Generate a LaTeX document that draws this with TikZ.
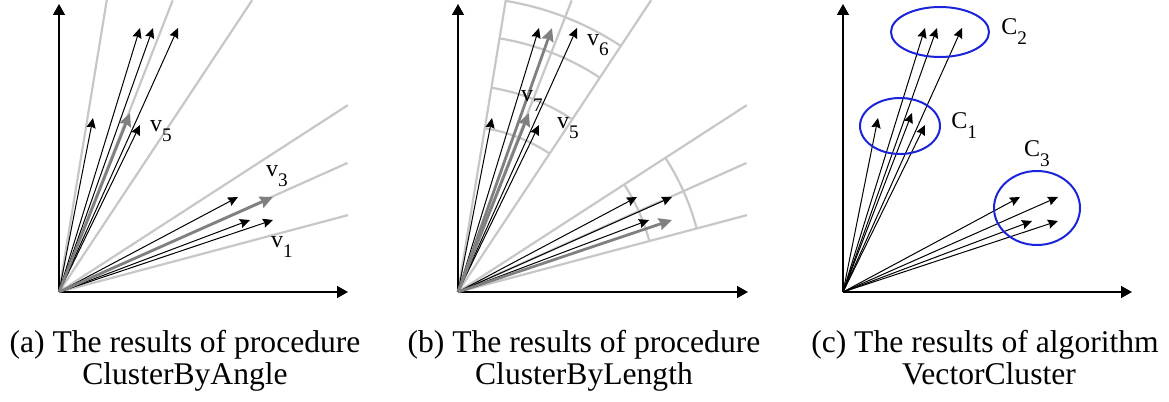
\documentclass[tikz,border=0pt]{standalone}
\usepackage{fontspec}
\setmainfont{Liberation Serif}
\usepackage{tikz}
\usetikzlibrary{positioning,arrows.meta,shapes.geometric}
\definecolor{clusterblue}{RGB}{28,36,218}
\newcommand{\vlab}[2]{#1\raisebox{-0.42em}{\fontsize{9.6}{9.6}\selectfont #2}}
\tikzset{
  axis/.style={-{Triangle[length=5.5pt,width=6pt]},line width=0.7pt},
  sector/.style={line width=1.1pt,black!22},
  vec/.style={-{Stealth[length=5pt,width=4.6pt,inset=0.6pt]},line width=0.5pt},
  gvec/.style={-{Stealth[length=6.5pt,width=6pt,inset=0.8pt]},line width=1.4pt,black!50},
  lab/.style={inner sep=0pt,font=\fontsize{12}{12}\selectfont},
  captext/.style={inner sep=0pt,anchor=base,font=\fontsize{15.8}{15.8}\selectfont},
  cluster/.style={ellipse,draw=clusterblue,line width=1pt,inner sep=0pt},
}

\begin{document}
\begin{tikzpicture}[x=0.5pt,y=0.5pt]
  \useasboundingbox (0,0) rectangle (1169,402);
  % panel origins
  \coordinate (oa) at (59,110);
  \coordinate (ob) at (458,110);
  \coordinate (oc) at (843,110);

  % (a) ClusterByAngle
  \path (oa) +(0,288) coordinate (ya) +(289,0) coordinate (xa)
        +(80.7:296) coordinate (sa1) +(68.7:313) coordinate (sa2)
        +(56.5:350) coordinate (sa3) +(32.9:344) coordinate (sa4)
        +(24.1:316) coordinate (sa5) +(14.9:299) coordinate (sa6);
  \path (oa) +(34,174) coordinate (au1) +(81,264) coordinate (au2)
        +(94,264) coordinate (au3) +(119,264) coordinate (au4)
        +(71,179) coordinate (au5) +(81,167) coordinate (au6)
        +(179,95) coordinate (al1) +(214,95) coordinate (al2)
        +(191,72) coordinate (al3) +(214,72) coordinate (al4);
  \draw[sector] (oa) -- (sa1) (oa) -- (sa2) (oa) -- (sa3)
                (oa) -- (sa4) (oa) -- (sa5) (oa) -- (sa6);
  \draw[axis] (oa) -- (ya);
  \draw[axis] (oa) -- (xa);
  \draw[vec] (oa) -- (au1);
  \draw[vec] (oa) -- (au2);
  \draw[vec] (oa) -- (au3);
  \draw[vec] (oa) -- (au4);
  \draw[vec] (oa) -- (au6);
  \draw[gvec] (oa) -- (au5);
  \draw[vec] (oa) -- (al1);
  \draw[vec] (oa) -- (al3);
  \draw[vec] (oa) -- (al4);
  \draw[gvec] (oa) -- (al2);
  \node[lab] (va5) at (161,271) {\vlab{v}{5}};
  \node[lab] (va3) at (277,226) {\vlab{v}{3}};
  \node[lab] (va1) at (282,155) {\vlab{v}{1}};

  % (b) ClusterByLength
  \path (ob) +(0,288) coordinate (yb) +(290,0) coordinate (xb)
        +(80.7:296) coordinate (sb1) +(68.7:313) coordinate (sb2)
        +(56.5:350) coordinate (sb3) +(32.9:344) coordinate (sb4)
        +(24.1:316) coordinate (sb5) +(14.9:299) coordinate (sb6);
  \path (ob) +(34,174) coordinate (bu1) +(81,264) coordinate (bu2)
        +(94,264) coordinate (bu3) +(119,264) coordinate (bu4)
        +(71,179) coordinate (bu5) +(81,167) coordinate (bu6)
        +(179,95) coordinate (bl1) +(214,95) coordinate (bl2)
        +(191,72) coordinate (bl3) +(214,72) coordinate (bl4);
  \draw[sector] (ob) -- (sb1) (ob) -- (sb2) (ob) -- (sb3)
                (ob) -- (sb4) (ob) -- (sb5) (ob) -- (sb6);
  \draw[sector] (ob) ++(80.7:166) arc[start angle=80.7,end angle=56.5,radius=166];
  \draw[sector] (ob) ++(80.7:207) arc[start angle=80.7,end angle=56.5,radius=207];
  \draw[sector] (ob) ++(80.7:257) arc[start angle=80.7,end angle=56.5,radius=257];
  \draw[sector] (ob) ++(80.7:295) arc[start angle=80.7,end angle=56.5,radius=295];
  \draw[sector] (ob) ++(32.9:198) arc[start angle=32.9,end angle=14.9,radius=198];
  \draw[sector] (ob) ++(32.9:247) arc[start angle=32.9,end angle=14.9,radius=247];
  \draw[axis] (ob) -- (yb);
  \draw[axis] (ob) -- (xb);
  \draw[vec] (ob) -- (bu1);
  \draw[vec] (ob) -- (bu2);
  \draw[vec] (ob) -- (bu4);
  \draw[vec] (ob) -- (bu6);
  \draw[gvec] (ob) -- (bu3);
  \draw[gvec] (ob) -- (bu5);
  \draw[vec] (ob) -- (bl1);
  \draw[vec] (ob) -- (bl2);
  \draw[vec] (ob) -- (bl3);
  \draw[gvec] (ob) -- (bl4);
  \node[lab] (vb6) at (598,357) {\vlab{v}{6}};
  \node[lab] (vb7) at (532,301) {\vlab{v}{7}};
  \node[lab] (vb5) at (568,274) {\vlab{v}{5}};

  % (c) VectorCluster
  \path (oc) +(0,288) coordinate (yc) +(289,0) coordinate (xc);
  \path (oc) +(35,174) coordinate (cu1) +(82,264) coordinate (cu2)
        +(94,264) coordinate (cu3) +(119,264) coordinate (cu4)
        +(69,179) coordinate (cu5) +(82,167) coordinate (cu6)
        +(177,95) coordinate (cl1) +(215,95) coordinate (cl2)
        +(189,71) coordinate (cl3) +(215,71) coordinate (cl4);
  \draw[axis] (oc) -- (yc);
  \draw[axis] (oc) -- (xc);
  \draw[vec] (oc) -- (cu1);
  \draw[vec] (oc) -- (cu2);
  \draw[vec] (oc) -- (cu3);
  \draw[vec] (oc) -- (cu4);
  \draw[vec] (oc) -- (cu5);
  \draw[vec] (oc) -- (cu6);
  \draw[vec] (oc) -- (cl1);
  \draw[vec] (oc) -- (cl2);
  \draw[vec] (oc) -- (cl3);
  \draw[vec] (oc) -- (cl4);
  \node[cluster,minimum width=49pt,minimum height=25pt] (c2) at (940,370) {};
  \node[cluster,minimum width=40pt,minimum height=28pt] (c1) at (900,276) {};
  \node[cluster,minimum width=43pt,minimum height=37pt] (c3) at (1037,194) {};
  \node[lab,right=5.5pt of c2] (lc2) {\vlab{C}{2}};
  \node[lab,right=5pt of c1]   (lc1) {\vlab{C}{1}};
  \node[lab,above=1.5pt of c3] (lc3) {\vlab{C}{3}};

  % captions
  \node[captext] (capa)  at (185,49.3) {(a) The results of procedure};
  \node[captext] (capa2) at (185,18)   {ClusterByAngle};
  \node[captext] (capb)  at (584,49.3) {(b) The results of procedure};
  \node[captext] (capb2) at (584,18)   {ClusterByLength};
  \node[captext] (capc)  at (985,49.3) {(c) The results of algorithm};
  \node[captext] (capc2) at (989,18)   {VectorCluster};
\end{tikzpicture}
\end{document}
